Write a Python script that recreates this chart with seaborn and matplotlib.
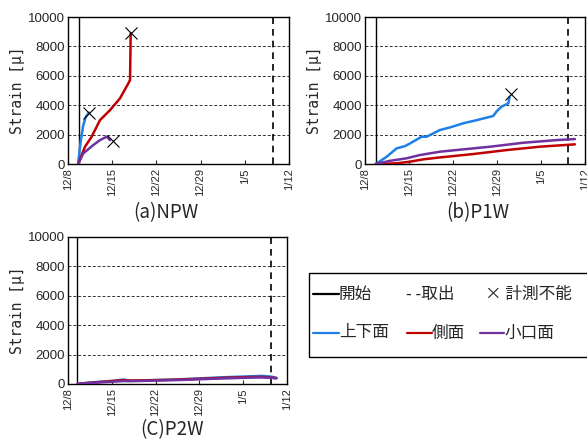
import numpy as np
import pandas as pd
import matplotlib
matplotlib.use("Agg")
import matplotlib.pyplot as plt
import seaborn as sns
from matplotlib.patches import Rectangle
from matplotlib.lines import Line2D

sns.set_theme(style="white")
plt.rcParams['font.family'] = ['Noto Sans CJK JP', 'DejaVu Sans']

# ---------------- data (days after 12/8) ----------------
tick_days = [0, 7, 14, 21, 28, 35]
tick_labels = ["12/8", "12/15", "12/22", "12/29", "1/5", "1/12"]
series_names = ["上下面", "側面", "小口面"]
series_colors = ["#1E80E6", "#C00000", "#7030A0"]

# (a) NPW
a_top_day = [1.6, 2.0, 2.4, 2.8, 3.3]
a_top_val = [0, 1500, 2600, 3200, 3500]
a_side_day = [1.6, 2.7, 3.75, 5.07, 6.66, 8.24, 9.56, 9.83, 9.93]
a_side_val = [0, 1180, 1860, 2990, 3670, 4470, 5490, 5720, 8900]
a_end_day = [1.6, 2.43, 4.0, 5.07, 6.13, 6.66]
a_end_val = [0, 730, 1290, 1630, 1860, 1630]
a_start, a_remove = 1.7, 32.5
a_cross_day = [3.4, 9.95, 7.1]
a_cross_val = [3500, 8950, 1600]

# (b) P1W
b_top_day = [1.7, 3.45, 5.04, 6.36, 7.15, 9.01, 9.8, 11.9, 13.5, 15.6, 17.8, 20.4, 20.9, 21.7, 22.8, 23.0]
b_top_val = [0, 500, 1070, 1220, 1400, 1860, 1860, 2310, 2490, 2770, 2990, 3270, 3560, 3900, 4130, 4580]
b_side_day = [1.7, 5.04, 7.15, 9.27, 11.9, 17.2, 22.5, 27.8, 33.4]
b_side_val = [0, 50, 160, 320, 450, 680, 950, 1180, 1340]
b_end_day = [1.7, 3.97, 6.6, 8.7, 11.9, 19.9, 25.2, 30.5, 33.4]
b_end_val = [0, 220, 390, 610, 840, 1180, 1450, 1630, 1700]
b_start, b_remove = 1.7, 32.3
b_cross_day = [23.3]
b_cross_val = [4780]

# (c) P2W
c_top_day = [1.5, 3, 5, 7, 8.8, 10, 13, 17, 21, 25, 29, 31, 32.5, 33.3]
c_top_val = [0, 80, 150, 200, 300, 220, 260, 300, 380, 460, 520, 550, 500, 420]
c_side_day = [1.5, 3, 5, 7, 8.8, 10, 13, 17, 21, 25, 29, 31, 32.5, 33.3]
c_side_val = [0, 60, 130, 200, 260, 230, 250, 290, 350, 420, 470, 480, 430, 400]
c_end_day = [1.5, 3, 5, 7, 8.8, 10, 13, 17, 21, 25, 29, 31, 32.5, 33.3]
c_end_val = [0, 50, 100, 150, 200, 190, 220, 260, 320, 380, 430, 450, 420, 380]
c_start, c_remove = 1.5, 32.5

yticks = [0, 2000, 4000, 6000, 8000, 10000]


def make_df(days_list, vals_list):
    frames = []
    for name, d, v in zip(series_names, days_list, vals_list):
        frames.append(pd.DataFrame({"day": d, "val": v, "s": name}))
    return pd.concat(frames, ignore_index=True)


panels = [
    ("(a)NPW", [0.1158, 0.628, 0.3765, 0.3333], (166, 213),
     make_df([a_top_day, a_side_day, a_end_day], [a_top_val, a_side_val, a_end_val]),
     a_start, a_remove, a_cross_day, a_cross_val),
    ("(b)P1W", [0.6218, 0.628, 0.3748, 0.3333], (478, 213),
     make_df([b_top_day, b_side_day, b_end_day], [b_top_val, b_side_val, b_end_val]),
     b_start, b_remove, b_cross_day, b_cross_val),
    ("(C)P2W", [0.1158, 0.1293, 0.3731, 0.3333], (172, 430),
     make_df([c_top_day, c_side_day, c_end_day], [c_top_val, c_side_val, c_end_val]),
     c_start, c_remove, [], []),
]

fig = plt.figure(figsize=(5.87, 4.41), dpi=100)

for title, rect, tpos, df, st, rm, cx, cy in panels:
    ax = fig.add_axes(rect)
    for yv in yticks[1:-1]:
        ax.axhline(yv, color="#333333", lw=0.7, ls=(0, (3, 2)), zorder=0)
    ax.axvline(st, color="black", lw=1.0, zorder=1)
    ax.axvline(rm, color="black", lw=1.2, ls=(0, (4, 3)), zorder=1)
    sns.lineplot(data=df, x="day", y="val", hue="s", hue_order=series_names,
                 palette=series_colors, sort=False, estimator=None,
                 linewidth=1.8, legend=False, ax=ax, zorder=3)
    if cx:
        ax.scatter(cx, cy, marker="x", s=75, color="black", linewidths=0.8, zorder=5)
    ax.set_xlim(0, 35)
    ax.set_ylim(0, 10000)
    ax.set_xticks(tick_days)
    ax.set_xticklabels(tick_labels, rotation=90, fontsize=8,
                       family=['Liberation Sans', 'DejaVu Sans'])
    ax.set_yticks(yticks)
    ax.set_yticklabels([str(v) for v in yticks], fontsize=9.5,
                       family=['Liberation Sans', 'DejaVu Sans'])
    ax.tick_params(axis="x", direction="in", length=3, width=0.8, pad=3, bottom=True)
    ax.tick_params(axis="y", length=0, pad=2)
    ax.set_xlabel("")
    ax.set_ylabel("Strain [μ]", fontsize=10.5, family=['DejaVu Sans Mono'],
                  labelpad=2)
    for sp in ax.spines.values():
        sp.set_color("black")
        sp.set_linewidth(1.0)
        sp.set_visible(True)
    fig.text(tpos[0] / 587, 1 - tpos[1] / 441, title,
             ha="center", va="center", fontsize=13.5)

# legend box
lax = fig.add_axes([0, 0, 1, 1], facecolor="none")
lax.set_xlim(0, 587)
lax.set_ylim(441, 0)
lax.axis("off")
lax.add_patch(Rectangle((309, 273), 290, 84, fill=False, edgecolor="black", lw=1.0))
fs = 12
lax.add_line(Line2D([313, 339], [294, 294], color="black", lw=1.6))
lax.text(339, 294, "開始", va="center", ha="left", fontsize=fs)
lax.text(406, 294, "- -取出", va="center", ha="left", fontsize=fs)
lax.text(485, 294, "× 計測不能", va="center", ha="left", fontsize=fs)
lax.add_line(Line2D([313, 339], [333, 333], color=series_colors[0], lw=1.6))
lax.text(339, 333, "上下面", va="center", ha="left", fontsize=fs)
lax.add_line(Line2D([407, 432], [333, 333], color=series_colors[1], lw=1.6))
lax.text(432, 333, "側面", va="center", ha="left", fontsize=fs)
lax.add_line(Line2D([480, 504], [333, 333], color=series_colors[2], lw=1.6))
lax.text(504, 333, "小口面", va="center", ha="left", fontsize=fs)

fig.savefig("out.png", dpi=100)
